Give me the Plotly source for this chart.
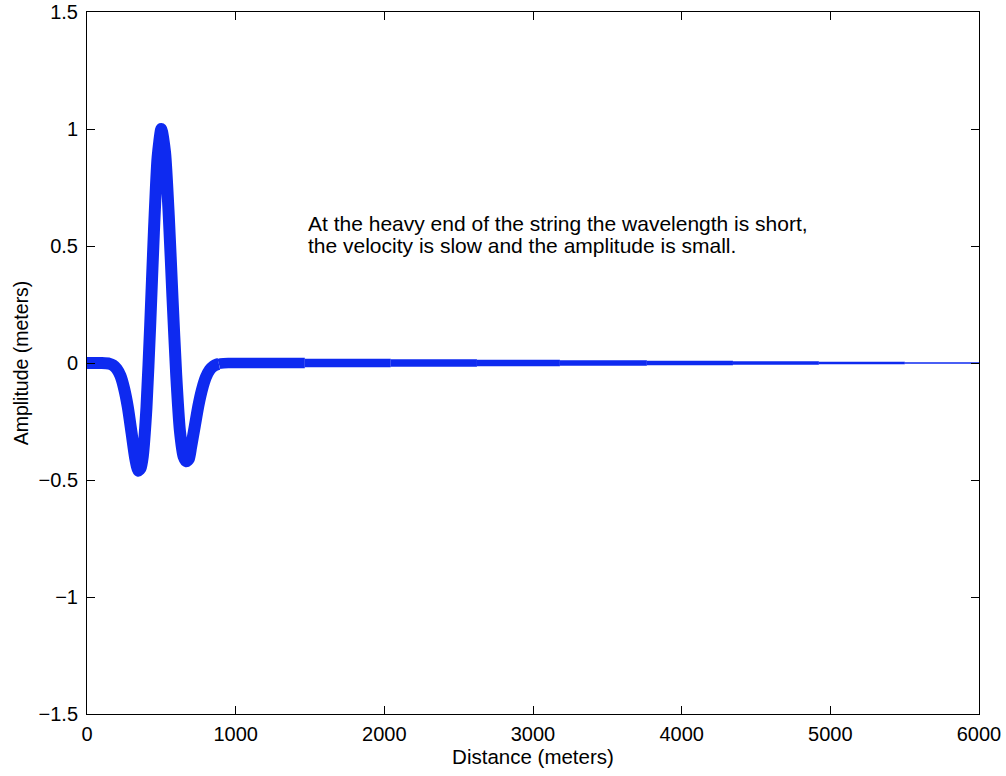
import plotly.graph_objects as go

# Displacement of the string
distance_m = [0, 100, 150, 175, 200, 225, 250, 275, 300, 325, 345, 360, 375, 400, 425,
              450, 475, 500, 525, 550, 575, 600, 625, 650, 668, 685, 700, 725, 750,
              775, 800, 825, 850, 875, 887, 900, 950, 1000, 1465, 2043, 2623, 3181, 3766,
              4345, 4923, 5501, 6000]
amplitude_m = [0.0, 0.0, -0.003, -0.01, -0.025, -0.055, -0.11, -0.19, -0.30, -0.41, -0.46,
               -0.45, -0.40, -0.19, 0.16, 0.56, 0.88, 1.0, 0.90, 0.63, 0.28, -0.05, -0.29,
               -0.40, -0.42, -0.41, -0.36, -0.27, -0.18, -0.11, -0.06, -0.03, -0.014,
               -0.006, -0.004, -0.002, 0.0, 0.0, 0.0, 0.0, 0.0, 0.0, 0.0, 0.0, 0.0, 0.0, 0.0]

# String segments (heavier toward the left end)
segment_edges = [0, 887, 1465, 2043, 2623, 3181, 3766, 4345, 4923, 5501, 6000]
segment_widths = [12, 10.5, 8.5, 7.5, 6.5, 5.5, 4.5, 3.5, 2.5, 1.3]

x_ticks = [0, 1000, 2000, 3000, 4000, 5000, 6000]
y_ticks = [-1.5, -1, -0.5, 0, 0.5, 1, 1.5]
y_tick_text = ["\u22121.5", "\u22121", "\u22120.5", "0", "0.5", "1", "1.5"]

note_lines = ["At the heavy end of the string the wavelength is short,",
              "the velocity is slow and the amplitude is small."]

BLUE = "rgb(14,42,240)"
FONT = "Liberation Sans, Arial, sans-serif"

fig = go.Figure()
for i in range(len(segment_widths)):
    lo, hi = segment_edges[i], segment_edges[i + 1]
    xs = [x for x in distance_m if lo <= x <= hi]
    ys = [amplitude_m[distance_m.index(x)] for x in xs]
    fig.add_trace(go.Scatter(
        x=xs, y=ys, mode="lines",
        line=dict(color=BLUE, width=segment_widths[i], shape="spline", smoothing=0.6),
        showlegend=False, hoverinfo="skip"))

for k, line in enumerate(note_lines):
    fig.add_annotation(x=1472, y=0.595 - k * 0.094, xref="x", yref="y", text=line,
                       showarrow=False, xanchor="left", yanchor="middle", align="left",
                       font=dict(family=FONT, size=21, color="black"))

axis_common = dict(showline=True, linecolor="black", linewidth=1, mirror="ticks",
                   ticks="inside", ticklen=8, tickcolor="black", showgrid=False,
                   zeroline=False, automargin=False, ticklabeloverflow="allow",
                   tickfont=dict(family=FONT, size=20, color="black"))

fig.update_xaxes(range=[0, 6000], tickvals=x_ticks, ticklabelstandoff=2,
                 title=dict(text="Distance (meters)", standoff=3,
                            font=dict(family=FONT, size=20.5, color="black")),
                 **axis_common)
fig.update_yaxes(range=[-1.5, 1.5], tickvals=y_ticks, ticktext=y_tick_text,
                 ticklabelstandoff=4,
                 title=dict(text="Amplitude (meters)", standoff=4,
                            font=dict(family=FONT, size=19.5, color="black")),
                 **axis_common)

fig.update_layout(width=1006, height=776, margin=dict(l=87, r=27, t=12, b=62),
                  plot_bgcolor="white", paper_bgcolor="white")

# drop the page's default 8px body margin so the figure fills the window exactly
fig.write_html("out.html", config={"displayModeBar": False},
               post_script="document.body.style.margin='0';document.body.style.overflow='hidden';")
